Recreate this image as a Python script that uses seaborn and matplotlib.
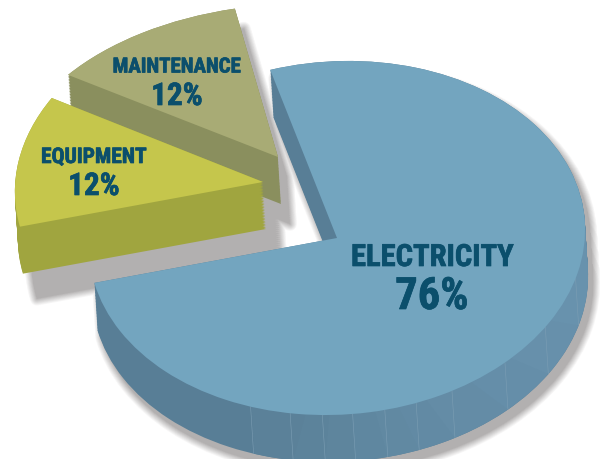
import numpy as np
import matplotlib
matplotlib.use("Agg")
import matplotlib.pyplot as plt
import matplotlib.patheffects as pe
from matplotlib.patches import Wedge
from matplotlib.transforms import Affine2D
import seaborn as sns

# chart data
segments = ["ELECTRICITY", "MAINTENANCE", "EQUIPMENT"]
shares = [76, 12, 12]

# colours per slice: top, side
top_colors = ["#73a5bf", "#a8ab75", "#c5c64c"]
side_colors = ["#587e96", "#8a8f5e", "#a0a53f"]
text_color = "#0b4f6c"
shadow_color = "#b2b0b0"

# pixel layout, image coords (y down). matrix = a, b, c, d of the squashed circle
W, H = 601, 459
apex = [(337, 238), (278, 157), (263, 182)]
squash = [(248, -4, 6, -177), (262, 7, 35, -153), (248, -4, 8, -176)]
draw_rank = [2, 0, 1]          # maintenance at the back, electricity in front
wall = (3, 47)                 # thickness of the disc
shadow_shift = [(5, 8), (9, 20), (14, 25)]

# shaded facets on the electricity rim
facet_angles = [251, 260.5, 268, 275, 282.5, 290, 299, 314, 328.5, 345.5, 372]
facet_colors = sns.blend_palette(["#5b8199", "#6892ad"], len(facet_angles) - 1)

label_xy = [(432, 257), (177, 67), (94, 157)]
pct_xy = [(432, 297), (177, 96), (94, 186)]
label_size = [22, 15, 15.5]
pct_size = [32, 22.5, 22.5]

sns.set_theme(style="white")
plt.rcParams["font.family"] = ["Roboto Condensed", "Roboto", "DejaVu Sans"]

fig = plt.figure(figsize=(W / 100, H / 100), dpi=100)
ax = fig.add_axes([0, 0, 1, 1])


def slice_transform(i, dx=0, dy=0):
    # image coords go down, the axes are inverted to match
    a, b, c, d = squash[i]
    x0, y0 = apex[i]
    return Affine2D.from_values(a, b, c, d, x0 + dx, y0 + dy) + ax.transData


def pie_layer(colors, z, shifts, lw=0):
    # one whole pie, each wedge moved to its own place
    wedges, _ = ax.pie(shares, colors=colors, startangle=193.4, radius=1,
                       wedgeprops={"linewidth": lw, "edgecolor": "none"})
    for i, w in enumerate(wedges):
        w.set_transform(slice_transform(i, *shifts[i]))
        w.set_zorder(z + 10 * draw_rank[i])
        if lw:
            w.set_edgecolor(colors[i])
            w.set_joinstyle("round")
    return wedges


# soft shadow: paint from wide and pale to narrow and dark
levels = 9
for n in range(levels):
    t = (n + 1) / levels
    shade = sns.blend_palette(["#ffffff", shadow_color], 101)[int(100 * t)]
    for frac in np.linspace(0, 1, 24):
        shifts = [(sx + wall[0] * frac, sy + wall[1] * frac) for sx, sy in shadow_shift]
        wedges = pie_layer([shade] * 3, 1, shifts, lw=11 * (1 - t) + 0.01)
        for w in wedges:
            w.set_zorder(1 + n * 0.1)

# side walls
for frac in np.linspace(0, 1, 32):
    pie_layer(side_colors, 10, [(wall[0] * frac, wall[1] * frac)] * 3)
    for k in range(len(facet_colors)):
        facet = Wedge((0, 0), 1, facet_angles[k], facet_angles[k + 1],
                      facecolor=facet_colors[k], linewidth=0,
                      transform=slice_transform(0, wall[0] * frac, wall[1] * frac),
                      zorder=10 + 10 * draw_rank[0] + 1)
        ax.add_patch(facet)

# thin seams between the facets
for angle in facet_angles[:-1]:
    rad = np.deg2rad(angle)
    a, b, c, d = squash[0]
    px = apex[0][0] + a * np.cos(rad) + c * np.sin(rad)
    py = apex[0][1] + b * np.cos(rad) + d * np.sin(rad)
    ax.plot([px, px + wall[0]], [py, py + wall[1]], color="#7c9eb4", lw=0.4,
            zorder=10 + 10 * draw_rank[0] + 2)

# top faces
pie_layer(top_colors, 13, [(0, 0)] * 3)

# labels are heavier in the original, a thin stroke gets close
heavier = [pe.withStroke(linewidth=0.5, foreground=text_color)]
for i, name in enumerate(segments):
    ax.text(*label_xy[i], name, color=text_color, fontsize=label_size[i], fontweight="bold",
            ha="center", va="center", zorder=100, path_effects=heavier)
    ax.text(*pct_xy[i], f"{shares[i]}%", color=text_color, fontsize=pct_size[i], fontweight="bold",
            ha="center", va="center", zorder=100, path_effects=heavier)

ax.set_aspect("auto")
ax.set_xlim(0, W)
ax.set_ylim(H, 0)
ax.axis("off")

fig.savefig("out.png", dpi=100, facecolor="white")
